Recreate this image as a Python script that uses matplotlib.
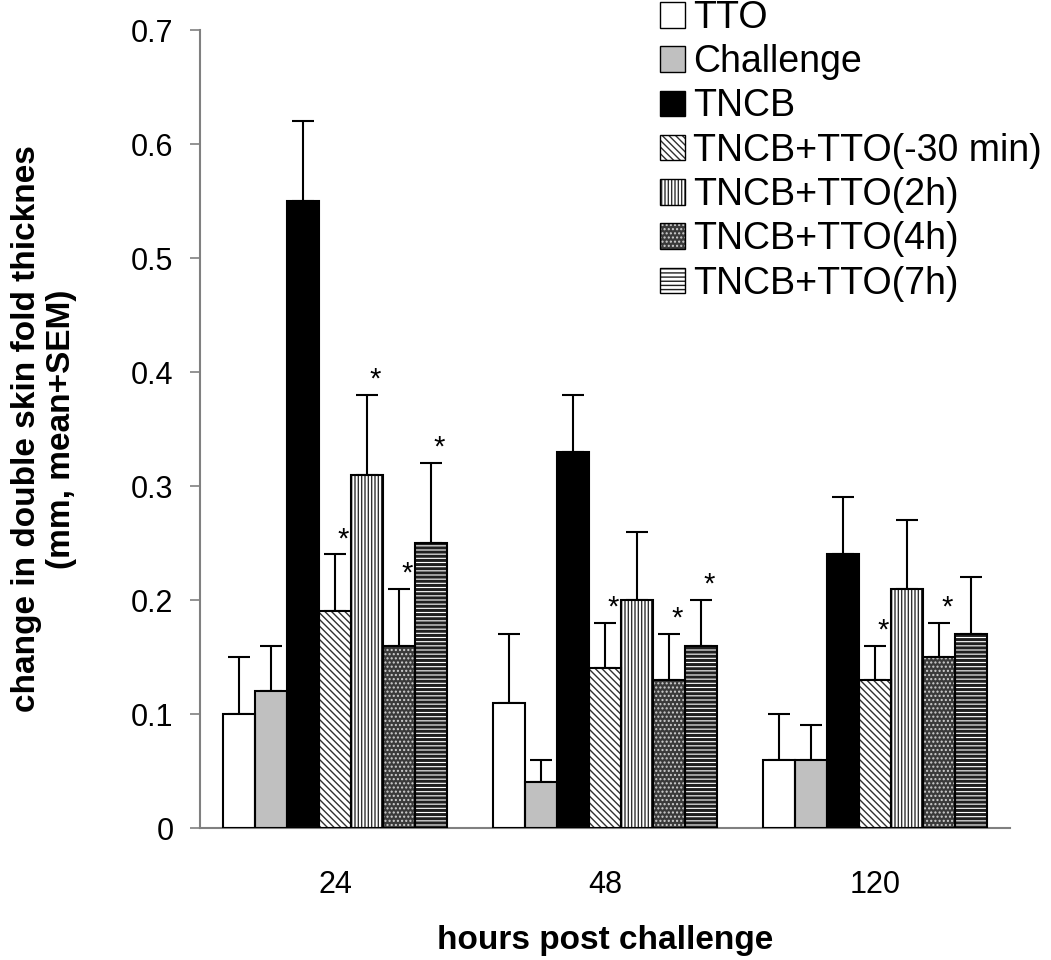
"""Skin fold thickness bar chart: grouped bars with upward SEM whiskers and significance stars."""

import matplotlib

matplotlib.use("Agg")  # headless backend

import matplotlib.pyplot as plt
import numpy as np
from matplotlib.legend_handler import HandlerTuple
from matplotlib.patches import Patch

plt.rcParams["font.family"] = ["Liberation Sans", "DejaVu Sans"]
plt.rcParams["hatch.linewidth"] = 1.0

# ---- data ----
groups = ["24", "48", "120"]
series = [
    "TTO",
    "Challenge",
    "TNCB",
    "TNCB+TTO(-30 min)",
    "TNCB+TTO(2h)",
    "TNCB+TTO(4h)",
    "TNCB+TTO(7h)",
]
tto = [0.10, 0.11, 0.06]
challenge = [0.12, 0.04, 0.06]
tncb = [0.55, 0.33, 0.24]
tto_m30 = [0.19, 0.14, 0.13]
tto_2h = [0.31, 0.20, 0.21]
tto_4h = [0.16, 0.13, 0.15]
tto_7h = [0.25, 0.16, 0.17]
means = [tto, challenge, tncb, tto_m30, tto_2h, tto_4h, tto_7h]

sem_tto = [0.05, 0.06, 0.04]
sem_challenge = [0.04, 0.02, 0.03]
sem_tncb = [0.07, 0.05, 0.05]
sem_m30 = [0.05, 0.04, 0.03]
sem_2h = [0.07, 0.06, 0.06]
sem_4h = [0.05, 0.04, 0.03]
sem_7h = [0.07, 0.04, 0.05]
sems = [sem_tto, sem_challenge, sem_tncb, sem_m30, sem_2h, sem_4h, sem_7h]

# significance vs TNCB
star_m30 = [True, True, True]
star_2h = [True, False, False]
star_4h = [True, True, True]
star_7h = [True, True, False]
stars = [[False] * 3, [False] * 3, [False] * 3, star_m30, star_2h, star_4h, star_7h]

# ---- styling (face, hatch, hatch colour, hatch linewidth) ----
_STYLES = [
    ("white", "", "black", 1.0),
    ("#c0c0c0", "", "black", 1.0),
    ("black", "", "black", 1.0),
    ("white", "\\\\\\\\\\", "#303030", 1.0),
    ("white", "|||||", "#303030", 1.0),
    ("#3a3a3a", "....", "#d0d0d0", 1.0),
    ("white", "----", "#202020", 2.2),
]
_WIDTH = 0.118
_EDGE_LW = 1.5

fig = plt.figure(figsize=(10.51, 9.6), dpi=100)
ax = fig.add_axes([200 / 1051, 1 - 828 / 960, 810 / 1051, 798 / 960])

x = np.arange(len(groups))
handles = []
for j, (name, vals, errs, flags) in enumerate(zip(series, means, sems, stars, strict=True)):
    face, hatch, hcol, hlw = _STYLES[j]
    pos = x + (j - 3) * _WIDTH
    # fill + hatch layer, then an outline layer on top
    with plt.rc_context({"hatch.linewidth": hlw}):
        ax.bar(pos, vals, _WIDTH, color=face, hatch=hatch, edgecolor=hcol, linewidth=0, zorder=2)
        fill_h = Patch(facecolor=face, hatch=hatch, edgecolor=hcol, linewidth=0)
    ax.bar(pos, vals, _WIDTH, fill=False, edgecolor="black", linewidth=_EDGE_LW, zorder=3)
    ax.errorbar(
        pos,
        vals,
        yerr=[np.zeros(len(vals)), errs],
        fmt="none",
        ecolor="black",
        elinewidth=1.5,
        capsize=8,
        capthick=1.5,
        zorder=1,
    )
    for p, v, e, f in zip(pos, vals, errs, flags, strict=True):
        if f:
            ax.text(p + 0.03, v + e + 0.001, "*", ha="center", va="bottom", fontsize=21)
    edge_h = Patch(fill=False, edgecolor="black", linewidth=1.0)
    handles.append((fill_h, edge_h))

ax.set_xlim(-0.5, 2.5)
ax.set_ylim(0, 0.7)
ax.set_yticks(np.arange(0, 0.71, 0.1))
ax.set_yticklabels(["0"] + [f"{v:.1f}" for v in np.arange(0.1, 0.71, 0.1)])
ax.set_xticks(x)
ax.set_xticklabels(groups)
ax.tick_params(axis="x", length=0, pad=30, labelsize=22)
ax.tick_params(axis="y", length=7, width=1.2, color="#808080", pad=12, labelsize=22)
for side in ("top", "right"):
    ax.spines[side].set_visible(False)
for side in ("left", "bottom"):
    ax.spines[side].set_color("#808080")
    ax.spines[side].set_linewidth(1.5)

ax.set_xlabel("hours post challenge", fontsize=24, fontweight="bold", labelpad=18)
ax.set_ylabel(
    "change in double skin fold thicknes\n(mm, mean+SEM)",
    fontsize=24,
    fontweight="bold",
    linespacing=1.15,
)
ax.yaxis.set_label_coords(-0.152, 0.5)

fig.legend(
    handles,
    series,
    loc="upper left",
    bbox_to_anchor=(660 / 1051, 1.0),
    frameon=False,
    fontsize=27,
    handler_map={tuple: HandlerTuple(ndivide=1)},
    handlelength=0.67,
    handleheight=0.67,
    handletextpad=0.22,
    labelspacing=0.22,
    borderaxespad=0.0,
    borderpad=0.0,
)

fig.savefig("out.png", dpi=100)
